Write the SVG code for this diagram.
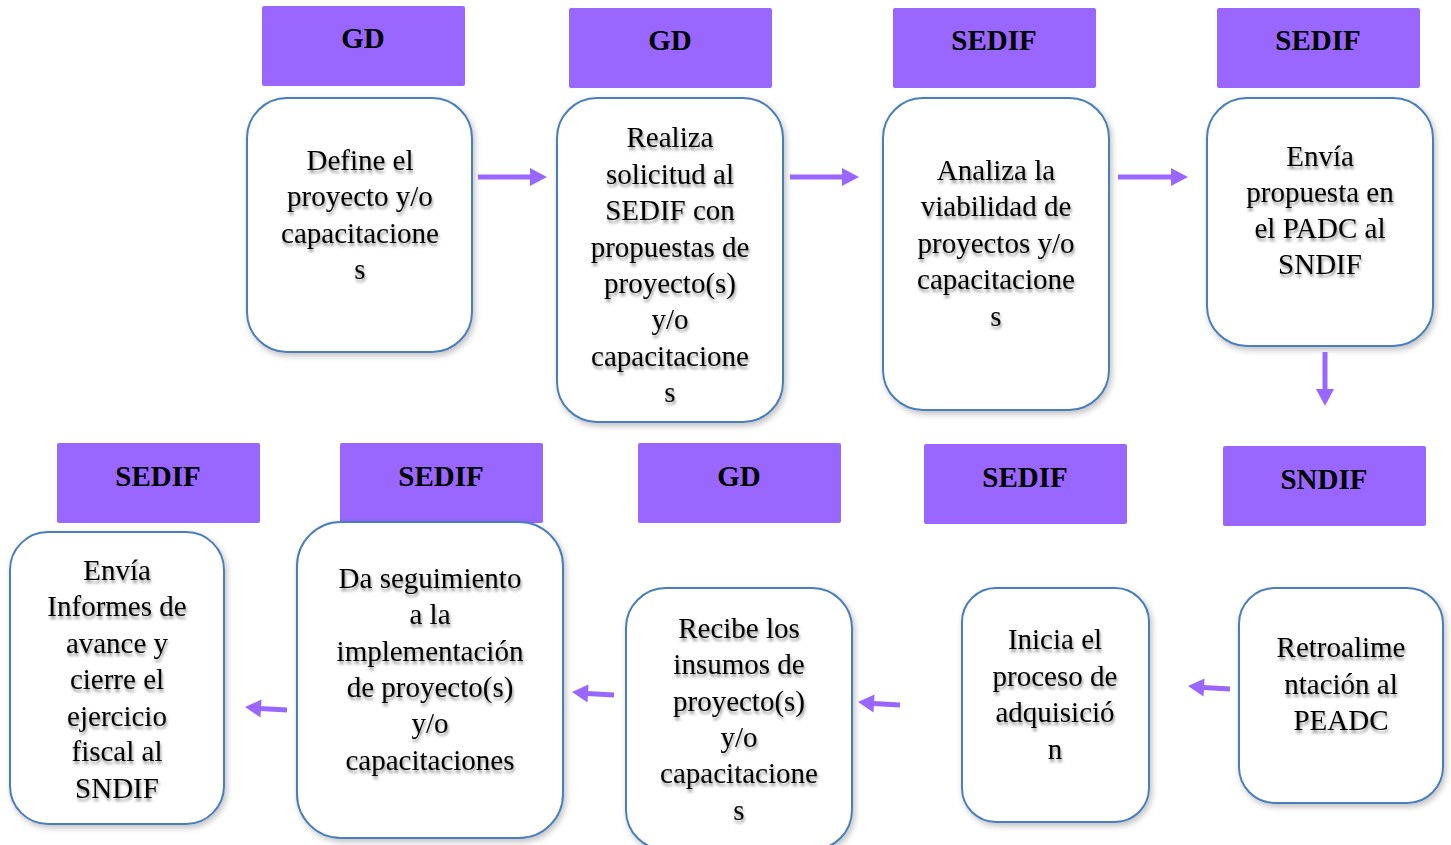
<svg xmlns="http://www.w3.org/2000/svg" width="1451" height="845" viewBox="0 0 1451 845">
<defs>
<filter id="bs" x="-10%" y="-10%" width="125%" height="125%">
<feGaussianBlur in="SourceAlpha" stdDeviation="3"/>
<feOffset dx="2" dy="3" result="o"/>
<feComponentTransfer><feFuncA type="linear" slope="0.25"/></feComponentTransfer>
<feMerge><feMergeNode/><feMergeNode in="SourceGraphic"/></feMerge>
</filter>
<filter id="ts" x="-10%" y="-30%" width="120%" height="170%">
<feGaussianBlur in="SourceAlpha" stdDeviation="1.8"/>
<feOffset dx="1" dy="3"/>
<feComponentTransfer><feFuncA type="linear" slope="0.45"/></feComponentTransfer>
<feMerge><feMergeNode/><feMergeNode in="SourceGraphic"/></feMerge>
</filter>
</defs>
<style>
.hd{fill:#9966FF;}
.ht{font-family:"Liberation Serif",serif;font-weight:bold;font-size:29px;fill:#000;text-anchor:middle;}
.bx{fill:#fff;stroke:#4A7EBB;stroke-width:2;}
.bt{font-family:"Liberation Serif",serif;font-size:29px;fill:#000;text-anchor:middle;}
.sh{stroke:#9966FF;stroke-width:5;fill:none;}
.hh{fill:#9966FF;}
</style>
<rect width="1451" height="845" fill="#fff"/>

<g id="h1"><rect class="hd" x="262" y="6" width="203" height="80" rx="2"/><text class="ht" x="363" y="48">GD</text></g>
<g id="h2"><rect class="hd" x="569" y="8" width="203" height="80" rx="2"/><text class="ht" x="670" y="50">GD</text></g>
<g id="h3"><rect class="hd" x="893" y="8" width="203" height="80" rx="2"/><text class="ht" x="994" y="50">SEDIF</text></g>
<g id="h4"><rect class="hd" x="1217" y="8" width="203" height="80" rx="2"/><text class="ht" x="1318" y="50">SEDIF</text></g>
<g id="h5"><rect class="hd" x="57" y="443" width="203" height="80" rx="2"/><text class="ht" x="158" y="486">SEDIF</text></g>
<g id="h6"><rect class="hd" x="340" y="443" width="203" height="80" rx="2"/><text class="ht" x="441" y="486">SEDIF</text></g>
<g id="h7"><rect class="hd" x="638" y="443" width="203" height="80" rx="2"/><text class="ht" x="739" y="486">GD</text></g>
<g id="h8"><rect class="hd" x="924" y="444" width="203" height="80" rx="2"/><text class="ht" x="1025" y="487">SEDIF</text></g>
<g id="h9"><rect class="hd" x="1223" y="446" width="203" height="80" rx="2"/><text class="ht" x="1324" y="489">SNDIF</text></g>

<g id="nA"><rect class="bx" filter="url(#bs)" x="247" y="98" width="225" height="254" rx="40"/>
<g class="bt" filter="url(#ts)"><text x="360" y="170">Define el</text><text x="360" y="206">proyecto y/o</text><text x="360" y="243">capacitacione</text><text x="360" y="279">s</text></g></g>

<g id="nB"><rect class="bx" filter="url(#bs)" x="557" y="98" width="226" height="324" rx="40"/>
<g class="bt" filter="url(#ts)"><text x="670" y="147">Realiza</text><text x="670" y="184">solicitud al</text><text x="670" y="220">SEDIF con</text><text x="670" y="257">propuestas de</text><text x="670" y="293">proyecto(s)</text><text x="670" y="329">y/o</text><text x="670" y="366">capacitacione</text><text x="670" y="402">s</text></g></g>

<g id="nC"><rect class="bx" filter="url(#bs)" x="883" y="98" width="226" height="312" rx="40"/>
<g class="bt" filter="url(#ts)"><text x="996" y="180">Analiza la</text><text x="996" y="216">viabilidad de</text><text x="996" y="253">proyectos y/o</text><text x="996" y="289">capacitacione</text><text x="996" y="326">s</text></g></g>

<g id="nD"><rect class="bx" filter="url(#bs)" x="1207" y="98" width="226" height="248" rx="40"/>
<g class="bt" filter="url(#ts)"><text x="1320" y="166">Envía</text><text x="1320" y="202">propuesta en</text><text x="1320" y="238">el PADC al</text><text x="1320" y="274">SNDIF</text></g></g>

<g id="nE"><rect class="bx" filter="url(#bs)" x="10" y="532" width="214" height="292" rx="38"/>
<g class="bt" filter="url(#ts)"><text x="117" y="580">Envía</text><text x="117" y="616">Informes de</text><text x="117" y="653">avance y</text><text x="117" y="689">cierre el</text><text x="117" y="726">ejercicio</text><text x="117" y="761">fiscal al</text><text x="117" y="798">SNDIF</text></g></g>

<g id="nF"><rect class="bx" filter="url(#bs)" x="297" y="522" width="266" height="316" rx="44"/>
<g class="bt" filter="url(#ts)"><text x="430" y="588">Da seguimiento</text><text x="430" y="624">a la</text><text x="430" y="661">implementación</text><text x="430" y="697">de proyecto(s)</text><text x="430" y="733">y/o</text><text x="430" y="770">capacitaciones</text></g></g>

<g id="nG"><rect class="bx" filter="url(#bs)" x="626" y="588" width="226" height="262" rx="40"/>
<g class="bt" filter="url(#ts)"><text x="739" y="638">Recibe los</text><text x="739" y="674">insumos de</text><text x="739" y="711">proyecto(s)</text><text x="739" y="747">y/o</text><text x="739" y="783">capacitacione</text><text x="739" y="820">s</text></g></g>

<g id="nH"><rect class="bx" filter="url(#bs)" x="962" y="588" width="187" height="234" rx="34"/>
<g class="bt" filter="url(#ts)"><text x="1055" y="649">Inicia el</text><text x="1055" y="686">proceso de</text><text x="1055" y="722">adquisició</text><text x="1055" y="759">n</text></g></g>

<g id="nI"><rect class="bx" filter="url(#bs)" x="1239" y="588" width="204" height="215" rx="36"/>
<g class="bt" filter="url(#ts)"><text x="1341" y="657">Retroalime</text><text x="1341" y="694">ntación al</text><text x="1341" y="730">PEADC</text></g></g>

<g id="connectors">
<line class="sh" x1="478" y1="177" x2="531" y2="177"/><polygon class="hh" points="530,168 547,177 530,186"/>
<line class="sh" x1="790" y1="177" x2="843" y2="177"/><polygon class="hh" points="842,168 859,177 842,186"/>
<line class="sh" x1="1118" y1="177" x2="1172" y2="177"/><polygon class="hh" points="1171,168 1188,177 1171,186"/>
<line class="sh" x1="1325" y1="352" x2="1325" y2="390"/><polygon class="hh" points="1316,389 1325,406 1334,389"/>
<line class="sh" x1="1230" y1="689" x2="1203" y2="687.5"/><polygon class="hh" points="1204.5,678.5 1188,686 1203.5,696.5"/>
<line class="sh" x1="900" y1="705" x2="873" y2="703.5"/><polygon class="hh" points="874.5,694.5 858,702 873.5,712.5"/>
<line class="sh" x1="614" y1="695" x2="587" y2="693.5"/><polygon class="hh" points="588.5,684.5 572,692 587.5,702.5"/>
<line class="sh" x1="287" y1="710" x2="260" y2="708.5"/><polygon class="hh" points="261.5,699.5 245,707 260.5,717.5"/>
</g>
</svg>
